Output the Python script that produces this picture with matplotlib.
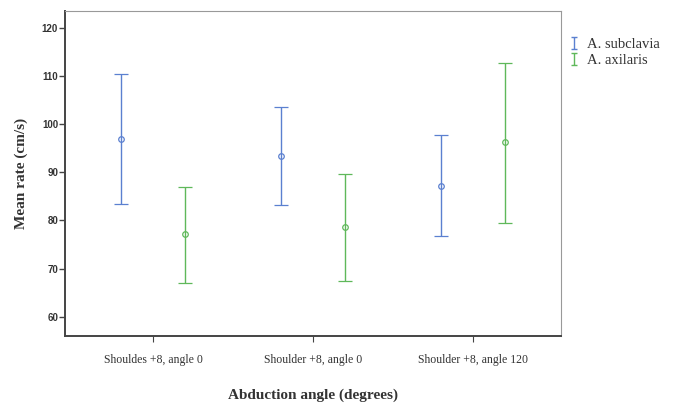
import matplotlib
matplotlib.use("Agg")
import matplotlib.pyplot as plt
from matplotlib.path import Path
from matplotlib.lines import Line2D
import numpy as np

categories = ["Shouldes +8, angle 0", "Shoulder +8, angle 0", "Shoulder +8, angle 120"]
series_names = ["A. subclavia", "A. axilaris"]
subclavia_mean = [97.0, 93.4, 87.2]
subclavia_low = [83.5, 83.3, 76.8]
subclavia_high = [110.5, 103.5, 97.8]
axilaris_mean = [77.2, 78.7, 96.3]
axilaris_low = [67.1, 67.4, 79.5]
axilaris_high = [86.9, 89.7, 112.6]
y_ticks = [60, 70, 80, 90, 100, 110, 120]

colors = ["#5b80d0", "#5fb85a"]

fig = plt.figure(figsize=(6.75, 4.04), dpi=100)
ax = fig.add_axes([0.0963, 0.168, 0.735, 0.805])

x = np.arange(len(categories))
offsets = [-0.2, 0.2]
data = [(subclavia_mean, subclavia_low, subclavia_high),
        (axilaris_mean, axilaris_low, axilaris_high)]
for (m, lo, hi), off, c, name in zip(data, offsets, colors, series_names):
    m = np.array(m); lo = np.array(lo); hi = np.array(hi)
    ax.errorbar(x + off, m, yerr=[m - lo, hi - m], fmt='o', color=c,
                mfc='none', mec=c, ms=4, mew=0.9, elinewidth=1.0,
                capsize=5, capthick=1.0, label=name)

ax.set_xlim(-0.55, 2.55)
ax.set_ylim(56, 123.5)
ax.set_yticks(y_ticks)
ax.set_yticklabels([str(t) for t in y_ticks], fontfamily="Liberation Sans",
                   fontweight="bold", fontsize=7, color="#333333")
ax.set_xticks(x)
ax.set_xticklabels(categories, fontfamily="Liberation Serif", fontsize=8.5,
                   color="#333333")
ax.tick_params(axis='y', direction='out', length=4, width=1, color="#444444", pad=1)
ax.tick_params(axis='x', direction='out', length=4, width=0.8, color="#444444", pad=9)

for side in ["left", "bottom"]:
    ax.spines[side].set_linewidth(1.4)
    ax.spines[side].set_color("#444444")
for side in ["top", "right"]:
    ax.spines[side].set_linewidth(0.8)
    ax.spines[side].set_color("#999999")
    ax.spines[side].set_linestyle((0, (4, 1)))

ax.set_ylabel("Mean rate (cm/s)", fontfamily="Liberation Serif", fontweight="bold",
              fontsize=11, color="#333333", labelpad=10)
ax.set_xlabel("Abduction angle (degrees)", fontfamily="Liberation Serif",
              fontweight="bold", fontsize=11, color="#333333", labelpad=16)

ibar = Path([(-0.6, -1), (0.6, -1), (0, -1), (0, 1), (-0.6, 1), (0.6, 1)],
            [Path.MOVETO, Path.LINETO, Path.MOVETO, Path.LINETO, Path.MOVETO, Path.LINETO])
handles = [Line2D([], [], linestyle='none', marker=ibar, markersize=8,
                  markeredgecolor=c, markerfacecolor='none', markeredgewidth=1.0)
           for c in colors]

leg = fig.legend(handles=handles, labels=series_names, loc="upper left",
                 bbox_to_anchor=(0.835, 0.92), frameon=False,
                 prop={"family": "Liberation Serif", "size": 10.5},
                 handlelength=0.6, handletextpad=0.6, labelspacing=0.2,
                 borderaxespad=0)
for t in leg.get_texts():
    t.set_color("#333333")

fig.savefig("out.png", dpi=100)
